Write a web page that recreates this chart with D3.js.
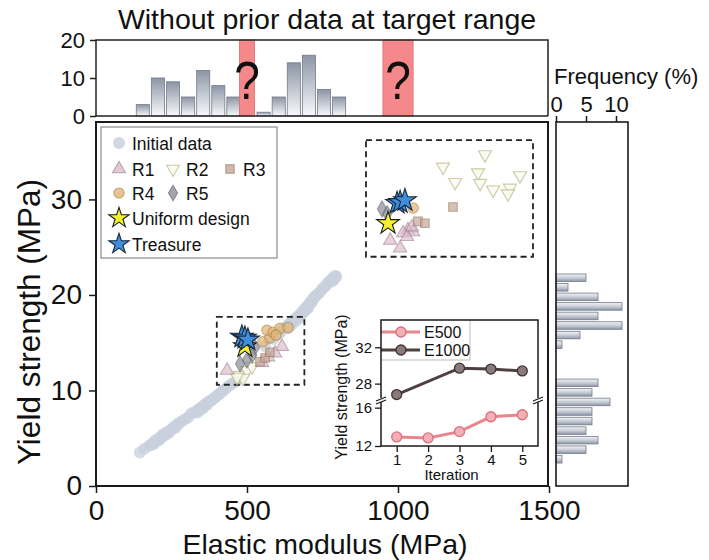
<!DOCTYPE html>
<html><head><meta charset="utf-8">
<script src="https://cdn.jsdelivr.net/npm/d3@7"></script>
<style>
body{margin:0;background:#fff}
svg{display:block}
text{font-family:"Liberation Sans",Arial,Helvetica,sans-serif;fill:#111}
</style>
</head><body><svg id="c" width="709" height="560"></svg>
<script>
// ---------------- DATA ----------------
const titleText = "Without prior data at target range";
const xTicks = [0, 500, 1000, 1500];
const yTicks = [0, 10, 20, 30];
const topHistTicks = [0, 10, 20];
const rightHistTicks = [0, 5, 10];

// initial data: [Elastic modulus (MPa), Yield strength (MPa)]
const initialData = [
 [145,3.5],[160,3.9],[175,4.2],
 [183,4.3],[188,4.5],[192,4.4],[197,4.8],[203,4.7],[208,5.0],[212,4.9],[218,5.3],[222,5.2],[227,5.5],
 [233,5.4],[238,5.7],[243,5.6],[248,5.9],[253,6.0],[258,6.2],[264,6.1],[270,6.5],[276,6.6],
 [285,6.8],[295,7.0],[305,7.2],[315,7.6],[325,7.7],
 [332,7.8],[336,7.7],[340,8.0],[344,8.1],[348,8.0],[352,8.3],[356,8.2],[360,8.5],[364,8.6],[368,8.5],[372,8.8],[377,8.9],
 [384,9.0],[390,9.2],[396,9.3],[402,9.5],[408,9.6],[414,9.8],[420,10.0],[426,10.1],
 [436,10.4],[446,10.6],[456,10.8],[466,11.0],[475,11.2],
 [560,14.6],
 [588,15.4],[598,15.8],[608,16.0],[616,16.3],[625,16.6],
 [632,16.7],[635,16.5],[639,16.9],[642,17.0],[646,16.8],[649,17.2],[653,17.1],[656,17.4],[660,17.5],[663,17.3],[667,17.7],[670,17.8],[674,17.6],[677,18.0],
 [682,18.1],[684,18.3],[687,18.2],[690,18.5],[693,18.4],[696,18.7],[699,18.8],[702,18.6],[705,19.0],[708,19.1],[711,19.3],[714,19.2],[717,19.5],[720,19.6],[724,19.8],[727,19.9],
 [735,20.1],[742,20.3],[748,20.6],[755,20.8],[762,21.0],[768,21.3],[775,21.5],
 [780,21.4],[784,21.8],[788,21.6],[792,22.0],[796,21.9]
];
const r1Data = [[616,14.6],[593,13.9],[570,13.5],[434,12.1],[550,12.9],
 [1033,26.8],[1050,26.6],[1017,26.5],[1030,26.1],[974,25.7],[1007,24.9],[1046,27.1]];
const r2Data = [[477,11.6],[500,12.1],[517,12.5],[487,11.3],[467,11.4],
 [1288,34.7],[1149,33.4],[1189,31.8],[1265,32.8],[1272,31.7],[1315,31.0],[1371,31.2],[1364,30.6],[1404,32.5]];
const r3Data = [[543,13.0],[560,13.4],[576,14.0],[1182,29.2],[1066,27.7],[1089,27.5]];
const r4Data = [[553,15.1],[576,15.5],[566,16.3],[586,16.1],[609,16.5],[636,16.6],[596,15.8],[1050,29.1]];
const r5Data = [[526,14.5],[517,13.7],[500,13.2],[477,12.8],[947,29.0],[964,28.5]];
const uniformData = [[493,14.6],[967,27.5]];
const treasureData = [[483,15.6],[493,15.5],[503,15.3],[997,29.6],[1007,29.7],[1023,29.9]];

// top histogram (bins of elastic modulus, counts)
const topBinStarts = [130,180,230,280,330,380,430,530,580,630,680,730,780];
const topBinWidth = 50;
const topCounts = [3,10,9,5,12,8,5,1,5,14,16,7,5];
const targetBands = [[475,525],[950,1050]];

// right histogram (bins of yield strength, frequency %)
const rightBinStarts = [2.3,3.3,4.3,5.3,6.3,7.3,8.3,9.3,10.3,14.3,15.3,16.3,17.3,18.3,19.3,20.3,21.3];
const rightBinWidth = 1;
const rightFreq = [1,5,7,5,6,6,9,6,7,1,4,11,7,11,7,2,5];

// dashed highlight regions [E0,E1,Y0,Y1]
const zoomRegions = [[400,690,10.6,17.7],[894,1447,24.0,36.2]];

// inset line chart
const iterTicks = [1,2,3,4,5];
const e500Iter = [1,2,3,4,5];
const e500Vals = [12.95,12.84,13.5,15.05,15.26];
const e1000Iter = [1,3,4,5];
const e1000Vals = [26.8,29.7,29.6,29.4];
const insetUpperTicks = [28,32];
const insetLowerTicks = [12,16];

// ---------------- DRAW ----------------
const svg = d3.select("#c");
const fmt = d3.format("d");
const defs = svg.append("defs");
const g1 = defs.append("linearGradient").attr("id","gTop").attr("x1",0).attr("y1",0).attr("x2",0).attr("y2",1);
g1.append("stop").attr("offset","0").attr("stop-color","#8c95a6");
g1.append("stop").attr("offset","1").attr("stop-color","#f8f9fb");
const g2 = defs.append("linearGradient").attr("id","gRight").attr("x1",0).attr("y1",0).attr("x2",0).attr("y2",1);
g2.append("stop").attr("offset","0").attr("stop-color","#f3f5f8");
g2.append("stop").attr("offset","0.55").attr("stop-color","#c3c9d3");
g2.append("stop").attr("offset","1").attr("stop-color","#8e97a6");

const x = d3.scaleLinear([0,1500],[96,549]);
const y = d3.scaleLinear([0,38],[486,123]);
const yTop = d3.scaleLinear([0,20],[116,40]);
const xR = d3.scaleLinear([0,12],[556,628]);

// title
svg.append("text").attr("x",327).attr("y",29).attr("text-anchor","middle")
  .style("font-size","28.5px").text(titleText);

// ---- top histogram
const topG = svg.append("g");
topG.selectAll("rect.bar").data(topBinStarts).join("rect").attr("class","bar")
  .attr("x",d=>x(d)+1).attr("width",d=>x(d+topBinWidth)-x(d)-2)
  .attr("y",(d,i)=>yTop(topCounts[i])).attr("height",(d,i)=>yTop(0)-yTop(topCounts[i]))
  .attr("fill","url(#gTop)").attr("stroke","#747b89").attr("stroke-width",0.8);
topG.selectAll("rect.band").data(targetBands).join("rect").attr("class","band")
  .attr("x",d=>x(d[0])).attr("width",d=>x(d[1])-x(d[0]))
  .attr("y",yTop(20)).attr("height",yTop(0)-yTop(20))
  .attr("fill","#f4888a").attr("stroke","#dc6f71").attr("stroke-width",0.8);
topG.selectAll("text.q").data(targetBands).join("text").attr("class","q")
  .attr("transform",d=>`translate(${x((d[0]+d[1])/2)},99) scale(0.85,1)`).attr("text-anchor","middle")
  .style("font-size","54px").text("?");
topG.append("path").attr("d",`M${x(0)},${yTop(0)}V${yTop(20)}H${x(1500)-1}V${yTop(0)}`)
  .attr("fill","none").attr("stroke","#222").attr("stroke-width",1.5);
topG.append("line").attr("x1",x(0)).attr("x2",x(1500)-1).attr("y1",yTop(0)).attr("y2",yTop(0))
  .attr("stroke","#222").attr("stroke-width",1.5);
const ta = topG.append("g").attr("transform",`translate(${x(0)},0)`)
  .call(d3.axisLeft(yTop).tickValues(topHistTicks).tickFormat(fmt).tickSize(6).tickPadding(5).tickSizeOuter(0));
ta.select(".domain").remove();
ta.selectAll("line").attr("stroke","#222").attr("stroke-width",1.5);
ta.selectAll("text").style("font-size","22px").attr("fill","#111");

// ---- main plot
const main = svg.append("g");
main.append("rect").attr("x",x(0)).attr("y",122).attr("width",x(1500)-x(0)-1).attr("height",y(0)-122)
  .attr("fill","#fff").attr("stroke","none");
main.selectAll("circle.init").data(initialData).join("circle").attr("class","init")
  .attr("cx",d=>x(d[0])).attr("cy",d=>y(d[1])).attr("r",6)
  .attr("fill","#c8d0dc").attr("fill-opacity",0.75);

main.selectAll("rect.zoom").data(zoomRegions).join("rect").attr("class","zoom")
  .attr("x",d=>x(d[0])).attr("y",d=>y(d[3])).attr("width",d=>x(d[1])-x(d[0])).attr("height",d=>y(d[2])-y(d[3]))
  .attr("fill","none").attr("stroke","#222").attr("stroke-width",1.8).attr("stroke-dasharray","6,4");

const styles = {
  R1:{type:d3.symbolTriangle,size:75,rot:0,fill:"#dcbfcd",stroke:"#a88699",op:0.7},
  R2:{type:d3.symbolTriangle,size:75,rot:180,fill:"#fbfbf1",stroke:"#c2c295",op:0.85},
  R3:{type:d3.symbolSquare,size:72,rot:0,fill:"#c9a898",stroke:"#9b8070",op:0.72},
  R4:{type:d3.symbolCircle,size:85,rot:0,fill:"#e2b676",stroke:"#b3884f",op:0.72},
  R5:{type:d3.symbolDiamond,size:72,rot:0,fill:"#8f8f9a",stroke:"#6a6a74",op:0.72},
  U:{type:d3.symbolStar,size:160,rot:0,fill:"#f4f12c",stroke:"#1c1c1c",op:1},
  T:{type:d3.symbolStar,size:160,rot:0,fill:"#3d8fdd",stroke:"#1a2638",op:1}
};
function drawSym(sel, data, st){
  sel.selectAll(null).data(data).join("path")
    .attr("d", d3.symbol().type(st.type).size(st.size)())
    .attr("transform", d=>`translate(${x(d[0])},${y(d[1])}) rotate(${st.rot})`)
    .attr("fill", st.fill).attr("stroke", st.stroke).attr("stroke-width",1.1).attr("opacity", st.op);
}
drawSym(main.append("g"), r2Data, styles.R2);
drawSym(main.append("g"), r1Data, styles.R1);
drawSym(main.append("g"), r3Data, styles.R3);
drawSym(main.append("g"), r4Data, styles.R4);
drawSym(main.append("g"), r5Data, styles.R5);
drawSym(main.append("g"), uniformData, styles.U);
drawSym(main.append("g"), treasureData, styles.T);

// frame
main.append("rect").attr("x",x(0)).attr("y",122).attr("width",x(1500)-x(0)-1).attr("height",y(0)-122)
  .attr("fill","none").attr("stroke","#1a1a1a").attr("stroke-width",2);

// axes
const xa = main.append("g").attr("transform",`translate(0,${y(0)})`)
  .call(d3.axisBottom(x).tickValues(xTicks).tickFormat(fmt).tickSize(7).tickPadding(7).tickSizeOuter(0));
xa.select(".domain").remove();
xa.selectAll("line").attr("stroke","#1a1a1a").attr("stroke-width",1.5);
xa.selectAll("text").style("font-size","28px").attr("fill","#111");
const ya = main.append("g").attr("transform",`translate(${x(0)},0)`)
  .call(d3.axisLeft(y).tickValues(yTicks).tickFormat(fmt).tickSize(7).tickPadding(7).tickSizeOuter(0));
ya.select(".domain").remove();
ya.selectAll("line").attr("stroke","#1a1a1a").attr("stroke-width",1.5);
ya.selectAll("text").style("font-size","28px").attr("fill","#111");

svg.append("text").attr("x",325).attr("y",554).attr("text-anchor","middle")
  .style("font-size","28.5px").text("Elastic modulus (MPa)");
svg.append("text").attr("transform","translate(40,322) rotate(-90)").attr("text-anchor","middle")
  .style("font-size","31.5px").text("Yield strength (MPa)");

// legend
const lg = main.append("g");
lg.append("rect").attr("x",101).attr("y",127).attr("width",176).attr("height",131)
  .attr("fill","#fff").attr("stroke","#8a8a8a").attr("stroke-width",1.2);
const legendItems = [
  {k:"init",label:"Initial data",cx:119,cy:143},
  {k:"R1",label:"R1",cx:119,cy:169},
  {k:"R2",label:"R2",cx:173,cy:169},
  {k:"R3",label:"R3",cx:230,cy:169},
  {k:"R4",label:"R4",cx:119,cy:193},
  {k:"R5",label:"R5",cx:173,cy:193},
  {k:"U",label:"Uniform design",cx:119,cy:218},
  {k:"T",label:"Treasure",cx:119,cy:244}
];
legendItems.forEach(it=>{
  if(it.k==="init"){
    lg.append("circle").attr("cx",it.cx).attr("cy",it.cy).attr("r",6).attr("fill","#d2d8e2");
  } else {
    const st = styles[it.k];
    lg.append("path").attr("d", d3.symbol().type(st.type).size(st.size*(it.k==="U"||it.k==="T"?0.8:0.95))())
      .attr("transform",`translate(${it.cx},${it.cy}) rotate(${st.rot})`)
      .attr("fill",st.fill).attr("stroke",st.stroke).attr("stroke-width",1.1).attr("opacity",Math.max(st.op,0.8));
  }
  lg.append("text").attr("x",it.cx+13).attr("y",it.cy+6.5).style("font-size","17.5px").text(it.label);
});

// ---- right histogram
const rh = svg.append("g");
rh.selectAll("rect.hb").data(rightBinStarts).join("rect").attr("class","hb")
  .attr("x",xR(0)).attr("width",(d,i)=>xR(rightFreq[i])-xR(0))
  .attr("y",d=>y(d+rightBinWidth)+1).attr("height",d=>y(d)-y(d+rightBinWidth)-2)
  .attr("fill","url(#gRight)").attr("stroke","#747b89").attr("stroke-width",0.8);
rh.append("rect").attr("x",xR(0)).attr("y",122).attr("width",xR(12)-xR(0)).attr("height",y(0)-122)
  .attr("fill","none").attr("stroke","#1a1a1a").attr("stroke-width",1.6);
const ra = rh.append("g").attr("transform","translate(0,122)")
  .call(d3.axisTop(xR).tickValues(rightHistTicks).tickFormat(fmt).tickSize(6).tickPadding(4).tickSizeOuter(0));
ra.select(".domain").remove();
ra.selectAll("line").attr("stroke","#1a1a1a").attr("stroke-width",1.5);
ra.selectAll("text").style("font-size","22px").attr("fill","#111");
rh.append("text").attr("x",554).attr("y",84).style("font-size","22px").text("Frequency (%)");

// ---- inset line chart
const inset = svg.append("g");
const L=381,R=538,T=320,B=446,BRK=400;
const xi = d3.scaleLinear([0.5,5.5],[L,R]);
const yUp = d3.scaleLinear([26.2,35],[BRK,T]);
const yLo = d3.scaleLinear([12,16.8],[B,BRK]);
inset.append("rect").attr("x",L).attr("y",T).attr("width",R-L).attr("height",B-T).attr("fill","#fff");

const lineLo = d3.line().x((d,i)=>xi(e500Iter[i])).y(d=>yLo(d));
const lineUp = d3.line().x((d,i)=>xi(e1000Iter[i])).y(d=>yUp(d));
inset.append("path").attr("d",lineLo(e500Vals)).attr("fill","none").attr("stroke","#e8868d").attr("stroke-width",3);
inset.append("path").attr("d",lineUp(e1000Vals)).attr("fill","none").attr("stroke","#4e4040").attr("stroke-width",3);
inset.selectAll("circle.lo").data(e500Vals).join("circle").attr("class","lo")
  .attr("cx",(d,i)=>xi(e500Iter[i])).attr("cy",d=>yLo(d)).attr("r",5)
  .attr("fill","#f2b0b6").attr("stroke","#d8707a").attr("stroke-width",1.3);
inset.selectAll("circle.up").data(e1000Vals).join("circle").attr("class","up")
  .attr("cx",(d,i)=>xi(e1000Iter[i])).attr("cy",d=>yUp(d)).attr("r",5)
  .attr("fill","#8a7b7b").attr("stroke","#3e3232").attr("stroke-width",1.3);

// inset legend
const il = inset.append("g");
il.append("path").attr("d",`M${L},360H470V${T}`).attr("fill","none").attr("stroke","#bbb").attr("stroke-width",1);
[["E500","#e8868d","#f2b0b6","#d8707a",332],["E1000","#4e4040","#8a7b7b","#3e3232",350]].forEach(r=>{
  il.append("line").attr("x1",L).attr("x2",420).attr("y1",r[4]).attr("y2",r[4]).attr("stroke",r[1]).attr("stroke-width",3);
  il.append("circle").attr("cx",401).attr("cy",r[4]).attr("r",5).attr("fill",r[2]).attr("stroke",r[3]).attr("stroke-width",1.3);
  il.append("text").attr("x",424).attr("y",r[4]+6).style("font-size","16px").text(r[0]);
});

inset.append("rect").attr("x",L).attr("y",T).attr("width",R-L).attr("height",B-T)
  .attr("fill","none").attr("stroke","#1a1a1a").attr("stroke-width",1.5);
function insetAxis(scale, vals){
  const a = inset.append("g").attr("transform",`translate(${L},0)`)
    .call(d3.axisLeft(scale).tickValues(vals).tickFormat(fmt).tickSize(6).tickPadding(3).tickSizeOuter(0));
  a.select(".domain").remove();
  a.selectAll("line").attr("stroke","#1a1a1a").attr("stroke-width",1.3);
  a.selectAll("text").style("font-size","15px").attr("fill","#111");
}
insetAxis(yUp, insetUpperTicks);
insetAxis(yLo, insetLowerTicks);
const xia = inset.append("g").attr("transform",`translate(0,${B})`)
  .call(d3.axisBottom(xi).tickValues(iterTicks).tickFormat(fmt).tickSize(6).tickPadding(2).tickSizeOuter(0));
xia.select(".domain").remove();
xia.selectAll("line").attr("stroke","#1a1a1a").attr("stroke-width",1.3);
xia.selectAll("text").style("font-size","15px").attr("fill","#111");
inset.append("text").attr("x",(L+R)/2-8).attr("y",480).attr("text-anchor","middle").style("font-size","15px").text("Iteration");
inset.append("text").attr("transform",`translate(347,${(T+B)/2+4}) rotate(-90)`).attr("text-anchor","middle")
  .style("font-size","16px").text("Yield strength (MPa)");
// axis break marks
[L,R].forEach(bx=>{
  inset.append("rect").attr("x",bx-5).attr("y",BRK-2).attr("width",10).attr("height",4).attr("fill","#fff");
  inset.append("line").attr("x1",bx-5).attr("x2",bx+5).attr("y1",BRK+1).attr("y2",BRK-3).attr("stroke","#1a1a1a").attr("stroke-width",1.2);
  inset.append("line").attr("x1",bx-5).attr("x2",bx+5).attr("y1",BRK+4).attr("y2",BRK).attr("stroke","#1a1a1a").attr("stroke-width",1.2);
});
</script></body></html>
